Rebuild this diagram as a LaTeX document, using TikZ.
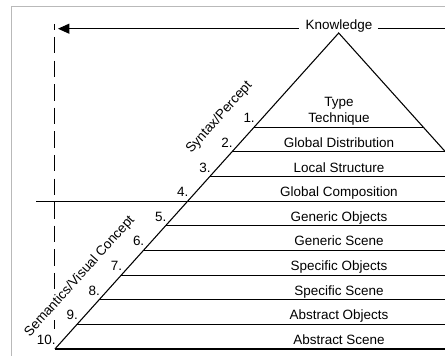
\documentclass[tikz,border=0pt]{standalone}
\usepackage{fontspec}
\setmainfont{Liberation Sans}
\usetikzlibrary{arrows.meta}
\begin{document}
\begin{tikzpicture}[x=0.75pt,y=-0.75pt,
  ln/.style={line width=0.8pt,black},
  lbl/.style={font=\fontsize{10.1}{12}\selectfont,anchor=base,inner sep=0pt},
  num/.style={font=\fontsize{10.1}{12}\selectfont,anchor=base east,inner sep=0pt},
  side/.style={font=\fontsize{10.1}{12}\selectfont,rotate=48.1,inner sep=0.8pt,fill=white}]
\useasboundingbox (0,0) rectangle (445,356);
% frame
\draw[gray!55,line width=0.75pt] (11,356) -- (11,7) -- (445,7);
% knowledge
\node[font=\fontsize{10.1}{12}\selectfont,anchor=base,inner sep=0pt] (kn) at (339,29.5) {Knowledge};
\coordinate (tip) at (58,28.7);
\coordinate (kright) at (445,28.7);
\draw[ln,-{Triangle[length=8.5pt,width=7.5pt]}] ([xshift=-5pt]kn.west |- tip) -- (tip);
\draw[ln] ([xshift=4pt]kn.east |- tip) -- (kright);
% dashed line
\coordinate (dtop) at (54.7,24);
\coordinate (dbot) at (54.7,329);
\draw[line width=0.8pt,dash pattern=on 12.4pt off 5.3pt,dash phase=8pt] (dtop) -- (dbot);
% pyramid
\coordinate (apex) at (338.7,33);
\coordinate (bl) at (54.9,349);
\coordinate (br) at (445.5,151.9);
\draw[ln] (bl) -- (apex) -- (br);
\coordinate (r1) at (423.6,127.3);
\coordinate (far4) at (36,201.2);
\foreach \k/\y/\x in {1/127.3/254.0,2/151.9/231.9,3/176.5/209.8,4/201.2/187.7,5/225.8/165.6,6/250.4/143.5,7/275.1/121.3,8/299.7/99.2,9/324.3/77.1,10/349.0/54.9}{
  \coordinate (L\k) at (\x,\y);
  \coordinate (R\k) at (445,\y);
  \node[num] (n\k) at (\x+1,\y-4.5) {\k.};
}
\draw[ln] (L1) -- (r1);
\foreach \k in {2,3,5,6,7,8,9,10}{\draw[ln] (L\k) -- (R\k);}
\draw[ln] (far4) -- (R4);
% labels
\node[lbl,align=center] (t1) at (339,122.8) {Type\\[0.3pt]Technique};
\node[lbl] (t2) at (339,147.4) {Global Distribution};
\node[lbl] (t3) at (339,172.0) {Local Structure};
\node[lbl] (t4) at (339,196.7) {Global Composition};
\node[lbl] (t5) at (339,221.3) {Generic Objects};
\node[lbl] (t6) at (339,245.9) {Generic Scene};
\node[lbl] (t7) at (339,270.6) {Specific Objects};
\node[lbl] (t8) at (339,295.2) {Specific Scene};
\node[lbl] (t9) at (339,319.8) {Abstract Objects};
\node[lbl] (t10) at (339,344.5) {Abstract Scene};
% side labels
\node[side] (syn) at (219.2,117.5) {Syntax/Percept};
\node[side] (sem) at (79.8,276.5) {Semantics/Visual Concept};
\end{tikzpicture}
\end{document}
